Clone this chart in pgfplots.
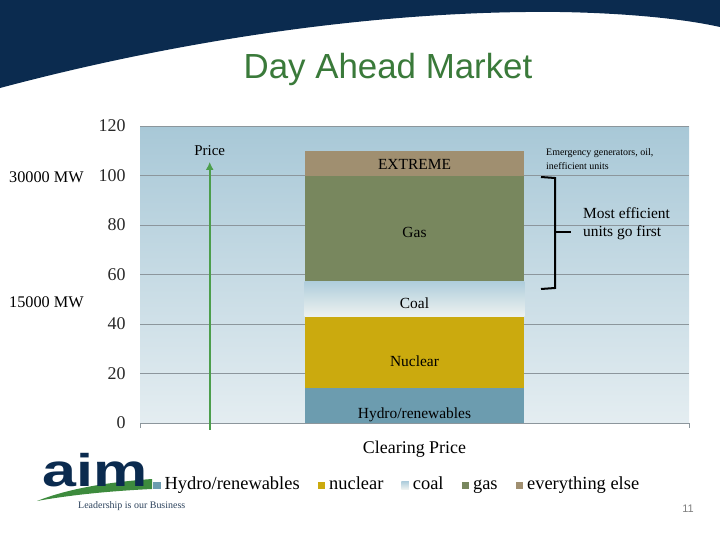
\documentclass[border=0pt]{standalone}
\usepackage{graphicx}
\usepackage{pgfplots}
\pgfplotsset{compat=1.18}
\usetikzlibrary{arrows.meta}
\usepackage{fontspec}
\setmainfont{Liberation Serif}
\newfontfamily\sansf{Liberation Sans}

\definecolor{navy}{RGB}{11,43,79}
\definecolor{titlegreen}{RGB}{58,122,58}
\definecolor{hydro}{RGB}{108,156,175}
\definecolor{nuclear}{RGB}{203,170,14}
\definecolor{coaltop}{RGB}{176,206,220}
\definecolor{coalbot}{RGB}{238,242,240}
\definecolor{gas}{RGB}{120,135,94}
\definecolor{extreme}{RGB}{160,143,112}
\definecolor{bgtop}{RGB}{168,200,215}
\definecolor{bgbot}{RGB}{228,237,241}
\definecolor{gridgray}{RGB}{140,150,156}
\definecolor{ticktext}{RGB}{40,40,40}
\definecolor{arrowgreen}{RGB}{76,158,76}
\definecolor{logogreen}{RGB}{61,139,61}

\begin{document}
\begin{tikzpicture}
\useasboundingbox (0,0) rectangle (720bp,-540bp);
\fill[white] (0,0) rectangle (720bp,-540bp);
\begin{scope}[x=1bp,y=-1bp]
\fill[navy] (0,0) -- (0,88) .. controls (180,40) and (380,10) .. (560,12)
  .. controls (620,13) and (680,18) .. (720,27) -- (720,0) -- cycle;
\node[font=\sansf\fontsize{35}{35}\selectfont, text=titlegreen] at (388,69) {Day Ahead Market};
\end{scope}

\begin{axis}[
  at={(140bp,-423bp)}, anchor=south west,
  scale only axis, width=549bp, height=297bp,
  xmin=0, xmax=1, ymin=0, ymax=120,
  ytick={0,20,...,120}, xtick=\empty,
  ymajorgrids, grid style={gridgray, line width=0.7bp},
  axis line style={draw=none},
  major tick length=0pt,
  ybar stacked, bar width=0.4,
  axis background/.style={shade, top color=bgtop, bottom color=bgbot},
  clip=false,
  tick label style={font=\fontsize{18}{18}\selectfont, text=ticktext},
  /pgf/number format/assume math mode=true,
  yticklabel style={xshift=-11bp},
  xlabel={Clearing Price},
  xlabel style={font=\fontsize{18}{18}\selectfont, at={(axis description cs:0.5,-0.0875)}, anchor=center},
  legend style={at={(axis description cs:0.018,-0.205)}, anchor=west, draw=none, fill=none,
     font=\fontsize{18.5}{18.5}\selectfont, cells={anchor=base west},
     /tikz/every odd column/.append style={column sep=2bp},
     /tikz/every even column/.append style={column sep=16bp}},
  legend columns=5,
  legend image code/.code={\draw[#1, draw=none] (0bp,0.5bp) rectangle (7.5bp,8bp);},
]
\addplot[fill=hydro, draw=none] coordinates {(0.5,14)};
\addplot[fill=nuclear, draw=none] coordinates {(0.5,29)};
\addplot[draw=none, top color=coaltop, bottom color=coalbot] coordinates {(0.5,14)};
\addplot[fill=gas, draw=none] coordinates {(0.5,43)};
\addplot[fill=extreme, draw=none] coordinates {(0.5,10)};
\legend{Hydro/renewables, nuclear, coal, gas, everything else}

\coordinate (lExt) at (axis cs:0.5,104.3);
\coordinate (lGas) at (axis cs:0.5,77);
\coordinate (lCoal) at (axis cs:0.5,48.5);
\coordinate (lNuc) at (axis cs:0.5,25);
\coordinate (lHyd) at (axis cs:0.5,3.2);
\node[font=\fontsize{15}{15}\selectfont] at (axis cs:0.127,110.2) {Price};
\draw[arrowgreen, line width=2bp, -{Latex[length=8bp,width=8bp]}] (axis cs:0.127,-2.8) -- (axis cs:0.127,105.5);
\draw[gridgray, line width=0.7bp] (axis cs:0,0) -- ++(0,-5bp);
\draw[gridgray, line width=0.7bp] (axis cs:1,0) -- ++(0,-5bp);
\end{axis}

\node[font=\fontsize{15.5}{15.5}\selectfont] at (lExt) {EXTREME};
\node[font=\fontsize{15.5}{15.5}\selectfont] at (lGas) {Gas};
\node[font=\fontsize{15.5}{15.5}\selectfont] at (lCoal) {Coal};
\node[font=\fontsize{15.5}{15.5}\selectfont] at (lNuc) {Nuclear};
\node[font=\fontsize{15.5}{15.5}\selectfont] at (lHyd) {Hydro/renewables};

\begin{scope}[x=1bp,y=-1bp]
\draw[line width=2bp, miter limit=2] (541,177) -- (555,178) -- (555,288) -- (541,289);
\draw[line width=2bp] (555,232) -- (571,232);
\node[anchor=west, font=\fontsize{10}{10}\selectfont, inner sep=0pt] at (546,153) {Emergency generators, oil,};
\node[anchor=west, font=\fontsize{10}{10}\selectfont, inner sep=0pt] at (546,166) {inefficient units};
\node[anchor=west, font=\fontsize{15.5}{15.5}\selectfont, inner sep=0pt] at (583,213) {Most efficient};
\node[anchor=west, font=\fontsize{15.5}{15.5}\selectfont, inner sep=0pt] at (583,233) {units go first};
\node[anchor=west, font=\fontsize{16.3}{16.3}\selectfont, inner sep=0pt] at (9,177) {30000 MW};
\node[anchor=west, font=\fontsize{16.3}{16.3}\selectfont, inner sep=0pt] at (9,302) {15000 MW};
% logo
\fill[logogreen] (37,501) .. controls (70,488) and (110,482) .. (152,479)
  -- (152,489) .. controls (110,491) and (70,495) .. (37,501) -- cycle;
\node[anchor=base west, inner sep=0pt, text=navy, font=\sansf\bfseries\fontsize{46}{46}\selectfont] at (42,486) {\scalebox{1.33}[1]{aim}};
\node[anchor=west, inner sep=0pt, text=navy!70!gray, font=\fontsize{10}{10}\selectfont] at (78,506) {Leadership is our Business};
\node[text=gray, font=\sansf\fontsize{11}{11}\selectfont] at (688,509) {11};
\end{scope}
\end{tikzpicture}
\end{document}
